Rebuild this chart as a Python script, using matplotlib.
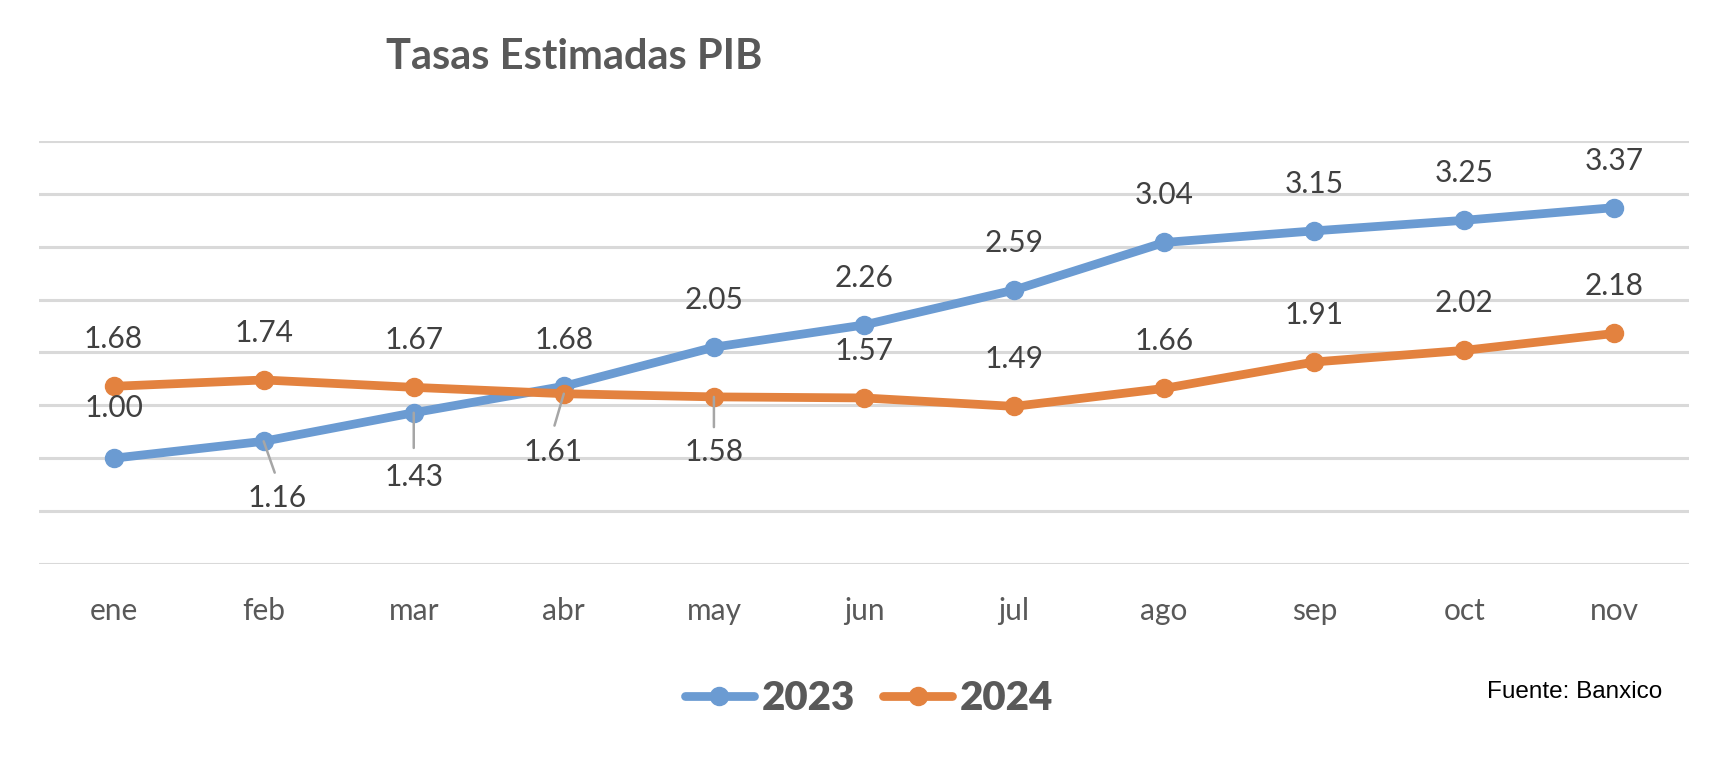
import matplotlib.pyplot as plt

# datos (Banxico)
meses = ['ene', 'feb', 'mar', 'abr', 'may', 'jun', 'jul', 'ago', 'sep', 'oct', 'nov']
pib_2023 = [1.00, 1.16, 1.43, 1.68, 2.05, 2.26, 2.59, 3.04, 3.15, 3.25, 3.37]
pib_2024 = [1.68, 1.74, 1.67, 1.61, 1.58, 1.57, 1.49, 1.66, 1.91, 2.02, 2.18]

azul = '#6B9BD2'
naranja = '#E3823F'
gris = '#595959'
fuente = ['Lato', 'DejaVu Sans']

# posicion de las etiquetas (pixeles respecto al punto), None = arriba
ofs_2023 = [(0, 50), (13, -57), (0, -64), (0, 46), None, None, None, None, None, None, None]
ofs_2024 = [None, None, None, (-11, -58), (0, -55), None, None, None, None, None, None]
linea_guia_2023 = [False, True, True, False, False, False, False, False, False, False, False]
linea_guia_2024 = [False, False, False, True, True, False, False, False, False, False, False]

fig = plt.figure(figsize=(17.28, 7.58), dpi=100)
ax = fig.add_axes([0.0223, 0.256, 0.9554, 0.558])

x = range(len(meses))
ax.plot(x, pib_2023, color=azul, lw=6.3, marker='o', ms=13, label='2023',
        solid_capstyle='round', zorder=3)
ax.plot(x, pib_2024, color=naranja, lw=6.3, marker='o', ms=13, label='2024',
        solid_capstyle='round', zorder=4)


def etiquetas(valores, offsets, guias):
    for i, v in enumerate(valores):
        dx, dy = offsets[i] if offsets[i] else (0, 47)
        ax.annotate(f'{v:.2f}', (i, v), xytext=(dx, dy), textcoords='offset pixels',
                    ha='center', va='center', fontsize=21.5, color='#404040',
                    family=fuente, zorder=6)
        if guias[i]:
            # linea guia gris desde el punto hacia la etiqueta
            ax.annotate('', (i, v), xytext=(dx * 0.85, dy * 0.55),
                        textcoords='offset pixels',
                        arrowprops=dict(arrowstyle='-', color='#A6A6A6', lw=1.8,
                                        shrinkA=0, shrinkB=0), zorder=5)


etiquetas(pib_2023, ofs_2023, linea_guia_2023)
etiquetas(pib_2024, ofs_2024, linea_guia_2024)

ax.set_xlim(-0.5, len(meses) - 0.5)
ax.set_ylim(0, 4)
ax.set_yticks([i * 0.5 for i in range(9)])
ax.yaxis.grid(True, color='#D9D9D9', lw=2.2)
ax.set_axisbelow(True)
ax.tick_params(axis='y', left=False, labelleft=False)
ax.tick_params(axis='x', bottom=False, pad=20, labelsize=21.5, labelcolor=gris)
ax.set_xticks(list(x))
ax.set_xticklabels(meses, family=fuente)
for s in ax.spines.values():
    s.set_visible(False)

fig.text(0.332, 0.925, 'Tasas Estimadas PIB', ha='center', va='center',
         fontsize=30, fontweight='bold', color=gris, family=fuente)

leg = fig.legend(loc='center', bbox_to_anchor=(0.503, 0.079), ncol=2, frameon=False,
                 prop={'family': fuente, 'weight': 'heavy', 'size': 29},
                 handlelength=1.7, columnspacing=0.7, handletextpad=0.2)
for t in leg.get_texts():
    t.set_color(gris)

fig.text(0.962, 0.087, 'Fuente: Banxico', ha='right', va='center', fontsize=17.5,
         color='black', family=['Liberation Sans Narrow', 'Liberation Sans', 'DejaVu Sans'])

fig.savefig('out.png', dpi=100)
